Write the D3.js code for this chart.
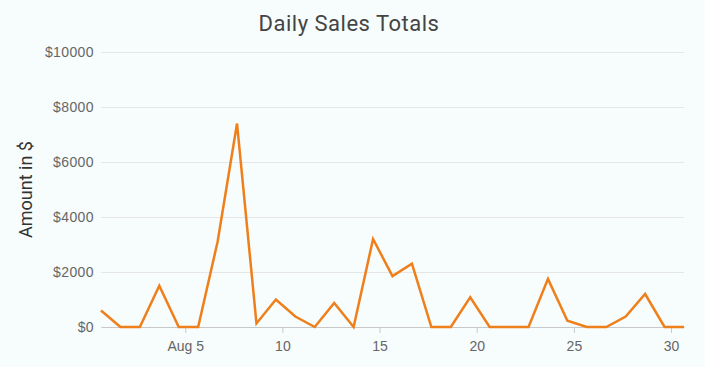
<!DOCTYPE html>
<html>
<head>
<meta charset="utf-8">
<script src="https://cdn.jsdelivr.net/npm/d3@7"></script>
<style>
  html, body { margin: 0; padding: 0; background: #f7fcfc; }
  svg { display: block; font-family: Roboto, sans-serif; }
  .grid line { stroke: #e6e6e6; }
  .tick text { fill: #666; }
</style>
</head>
<body>
<div id="chart"></div>
<script>
// values, one per day of August
const days = d3.range(1, 32);
const sales = [
  600, 0, 0, 1500, 0, 0, 3100, 7400, 130, 1000,
  380, 0, 870, 0, 3200, 1850, 2300, 0, 0, 1080,
  0, 0, 0, 1750, 230, 0, 0, 380, 1200, 0, 0,
];
const yTicks = [0, 2000, 4000, 6000, 8000, 10000];
const xTickDays = [5, 10, 15, 20, 25, 30];
const xTickLabels = ["Aug 5", "10", "15", "20", "25", "30"];
const tickShiftHours = 8; // ticks sit at local midnight, points at UTC midnight

const width = 705;
const height = 367;
const marginTop = 52;
const marginRight = 21;
const marginBottom = 40;
const marginLeft = 101;

const data = days.map((d, i) => ({ date: new Date(Date.UTC(2019, 7, d)), value: sales[i] }));

const x = d3.scaleUtc()
  .domain(d3.extent(data, (d) => d.date))
  .range([marginLeft, width - marginRight]);
const y = d3.scaleLinear()
  .domain([0, 10000])
  .range([height - marginBottom, marginTop]);

const svg = d3.select("#chart").append("svg")
  .attr("width", width)
  .attr("height", height);

svg.append("text")
  .attr("x", 349)
  .attr("y", 31)
  .attr("text-anchor", "middle")
  .attr("fill", "#444")
  .style("font-size", "22px")
  .style("letter-spacing", "0.5px")
  .text("Daily Sales Totals");

// gridlines + y labels
const yAxis = svg.append("g")
  .attr("class", "grid")
  .attr("transform", `translate(${marginLeft},0)`)
  .call(d3.axisLeft(y)
    .tickValues(yTicks)
    .tickSize(-(width - marginLeft - marginRight))
    .tickPadding(7)
    .tickFormat((d) => "$" + d));
yAxis.select(".domain").remove();
yAxis.selectAll(".tick text")
  .style("font-size", "14px")
  .style("letter-spacing", "0.4px");

svg.append("text")
  .attr("transform", `translate(32,${(marginTop + height - marginBottom) / 2}) rotate(-90)`)
  .attr("text-anchor", "middle")
  .attr("fill", "#333")
  .style("font-size", "18px")
  .text("Amount in $");

// x axis
const xTickDates = xTickDays.map((d) => new Date(Date.UTC(2019, 7, d, tickShiftHours)));
const xAxis = svg.append("g")
  .attr("transform", `translate(0,${height - marginBottom})`)
  .call(d3.axisBottom(x)
    .tickValues(xTickDates)
    .tickSize(6)
    .tickSizeOuter(0)
    .tickPadding(8)
    .tickFormat((d, i) => xTickLabels[i]));
xAxis.select(".domain").attr("stroke", "#c8c8c8");
xAxis.selectAll(".tick line").attr("stroke", "#c8c8c8");
xAxis.selectAll(".tick text").style("font-size", "14px");

const line = d3.line()
  .x((d) => x(d.date))
  .y((d) => y(d.value));

svg.append("path")
  .datum(data)
  .attr("fill", "none")
  .attr("stroke", "#ef7f1a")
  .attr("stroke-width", 2.5)
  .attr("d", line);
</script>
</body>
</html>
